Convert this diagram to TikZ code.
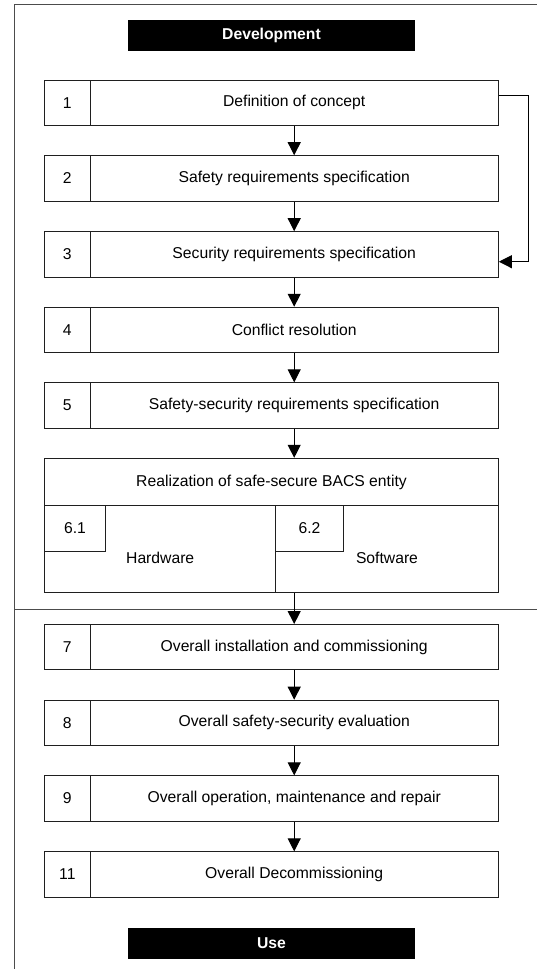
\documentclass[tikz,border=0pt]{standalone}
\usepackage{fontspec}
\setmainfont{Liberation Sans}
\usetikzlibrary{arrows.meta,calc}
\tikzset{
  txt/.style={font=\fontsize{15.7}{18}\selectfont, inner sep=0pt},
  cell/.style={txt, draw=black!88, line width=1pt, rectangle, minimum height=45.3pt},
  numcell/.style={cell, minimum width=45.3pt},
  maincell/.style={cell, minimum width=408.3pt},
  banner/.style={txt, fill=black, text=white, font=\fontsize{15.7}{18}\selectfont\bfseries, minimum width=287pt, minimum height=31pt},
  frameline/.style={draw=black!70, line width=1pt},
  arr/.style={draw=black, line width=1pt, -{Triangle[width=13pt,length=13pt]}}
}
\begin{document}
\begin{tikzpicture}[x=1pt,y=-1pt]
\useasboundingbox (0,0) rectangle (537,969);
% frame
\coordinate (ftl) at (14.7,4);
\coordinate (ftr) at (537,4);
\coordinate (fbl) at (14.7,969);
\coordinate (fml) at (14.7,609.5);
\coordinate (fmr) at (537,609.5);
\draw[frameline] (ftr) -- (ftl) -- (fbl);
\draw[frameline] (fml) -- (fmr);
% banners
\node[banner] (dev) at (271.5,35.5) {Development};
\node[banner] (use) at (271.5,943.5) {Use};
% boxes
\node[numcell] (n1) at (67.35,102.65) {1};
\node[maincell] (t1) at (294.2,102.65) {Definition of concept};
\node[numcell] (n2) at (67.35,178.35) {2};
\node[maincell] (t2) at (294.2,178.35) {Safety requirements specification};
\node[numcell] (n3) at (67.35,254.35) {3};
\node[maincell] (t3) at (294.2,254.35) {Security requirements specification};
\node[numcell] (n4) at (67.35,329.9) {4};
\node[maincell] (t4) at (294.2,329.9) {Conflict resolution};
\node[numcell] (n5) at (67.35,405.5) {5};
\node[maincell] (t5) at (294.2,405.5) {Safety-security requirements specification};
% box 6
\node[cell, minimum width=453.6pt, minimum height=47.4pt] (t6) at (271.5,482) {Realization of safe-secure BACS entity};
\node[cell, minimum width=231pt, minimum height=86.8pt] (h61) at (160.2,549.1) {};
\node[cell, minimum width=222.6pt, minimum height=86.8pt] (h62) at (387,549.1) {};
\node[cell, minimum width=60.6pt] (n61) at (75,528.35) {6.1};
\node[cell, minimum width=67.5pt] (n62) at (309.45,528.35) {6.2};
\node[txt] (hw) at (160.2,558.3) {Hardware};
\node[txt] (sw) at (387,558.3) {Software};
% lower boxes
\node[numcell] (n7) at (67.35,647.15) {7};
\node[maincell] (t7) at (294.2,647.15) {Overall installation and commissioning};
\node[numcell] (n8) at (67.35,722.85) {8};
\node[maincell] (t8) at (294.2,722.85) {Overall safety-security evaluation};
\node[numcell] (n9) at (67.35,798.5) {9};
\node[maincell] (t9) at (294.2,798.5) {Overall operation, maintenance and repair};
\node[numcell] (n11) at (67.35,874.5) {11};
\node[maincell] (t11) at (294.2,874.5) {Overall Decommissioning};
% arrows
\draw[arr] (t1.south) -- (t2.north);
\draw[arr] (t2.south) -- (t3.north);
\draw[arr] (t3.south) -- (t4.north);
\draw[arr] (t4.south) -- (t5.north);
\draw[arr] (t5.south) -- (t5.south |- t6.north);
\draw[arr] (t7.north |- h62.south) -- (t7.north);
\draw[arr] (t7.south) -- (t8.north);
\draw[arr] (t8.south) -- (t9.north);
\draw[arr] (t9.south) -- (t11.north);
\draw[arr] ([yshift=7.6pt]t1.east) -- ++(30,0) |- ([yshift=-7.35pt]t3.east);
\end{tikzpicture}
\end{document}
